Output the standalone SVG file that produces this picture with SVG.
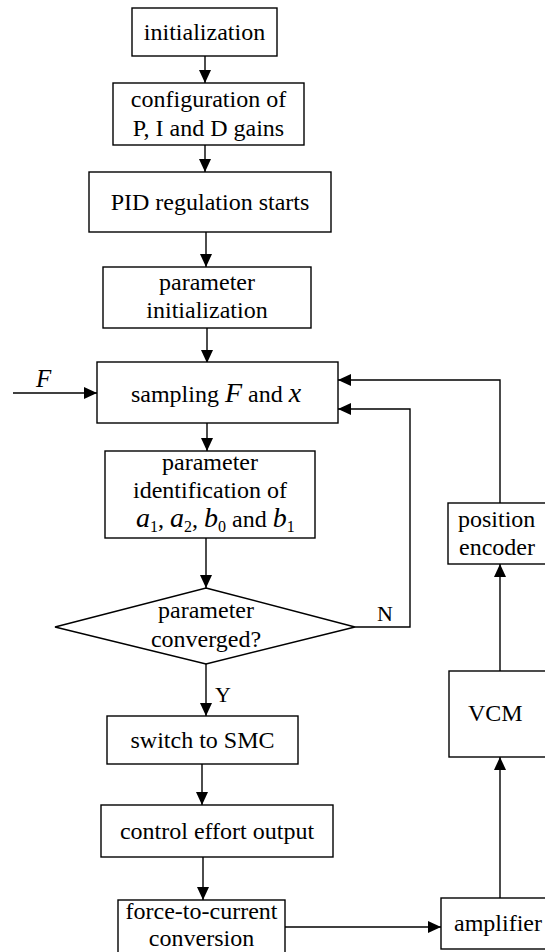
<svg xmlns="http://www.w3.org/2000/svg" width="545" height="952" viewBox="0 0 545 952">
  <style>
    .box { fill: #fff; stroke: #000; stroke-width: 1.4; }
    .wire { fill: none; stroke: #000; stroke-width: 1.4; }
    text { font-family: "Liberation Serif", "Times New Roman", serif; font-size: 24px; fill: #000; }
    .c { text-anchor: middle; }
    .it { font-style: italic; font-size: 28px; }
    .sub { font-size: 16px; }
  </style>
  <defs>
    <marker id="arrow" markerUnits="userSpaceOnUse" markerWidth="14" markerHeight="12" refX="13" refY="6" orient="auto">
      <path d="M0,0 L13,6 L0,12 z" fill="#000"/>
    </marker>
  </defs>

  <g id="connectors">
    <path class="wire" d="M205,56 V83" marker-end="url(#arrow)"/>
    <path class="wire" d="M205,145 V172" marker-end="url(#arrow)"/>
    <path class="wire" d="M206,232 V267" marker-end="url(#arrow)"/>
    <path class="wire" d="M207,328 V363" marker-end="url(#arrow)"/>
    <path class="wire" d="M13,393 H97" marker-end="url(#arrow)"/>
    <path class="wire" d="M207,423 V451" marker-end="url(#arrow)"/>
    <path class="wire" d="M206,538 V588" marker-end="url(#arrow)"/>
    <path class="wire" d="M355,627 H410 V409 H338" marker-end="url(#arrow)"/>
    <path class="wire" d="M500,503 V380 H338" marker-end="url(#arrow)"/>
    <path class="wire" d="M206,664 V716" marker-end="url(#arrow)"/>
    <path class="wire" d="M202,764 V805" marker-end="url(#arrow)"/>
    <path class="wire" d="M203,857 V900" marker-end="url(#arrow)"/>
    <path class="wire" d="M285,927 H441" marker-end="url(#arrow)"/>
    <path class="wire" d="M500,898 V757" marker-end="url(#arrow)"/>
    <path class="wire" d="M500,671 V564" marker-end="url(#arrow)"/>
    <text class="it" x="36" y="387" style="font-size:25px">F</text>
    <text x="377" y="621" style="font-size:22px">N</text>
    <text x="215" y="702" style="font-size:22px">Y</text>
  </g>

  <g id="initialization">
    <rect class="box" x="132" y="8" width="145" height="48"/>
    <text class="c" x="204.5" y="40">initialization</text>
  </g>

  <g id="gain-config">
    <rect class="box" x="113" y="83" width="191" height="62"/>
    <text class="c" x="208.5" y="107">configuration of</text>
    <text class="c" x="208.5" y="136">P, I and D gains</text>
  </g>

  <g id="pid-start">
    <rect class="box" x="89" y="172" width="242" height="60"/>
    <text class="c" x="210" y="210">PID regulation starts</text>
  </g>

  <g id="param-init">
    <rect class="box" x="103" y="267" width="208" height="61"/>
    <text class="c" x="207" y="290">parameter</text>
    <text class="c" x="207" y="318">initialization</text>
  </g>

  <g id="sampling">
    <rect class="box" x="97" y="362" width="241" height="61"/>
    <text class="c" x="216" y="402">sampling <tspan class="it">F</tspan> and <tspan class="it">x</tspan></text>
  </g>

  <g id="param-ident">
    <rect class="box" x="105" y="451" width="210" height="87"/>
    <text class="c" x="210" y="470">parameter</text>
    <text class="c" x="210" y="498">identification of</text>
    <text x="136" y="527"><tspan class="it">a</tspan><tspan class="sub" dy="5">1</tspan><tspan dy="-5">, </tspan><tspan class="it">a</tspan><tspan class="sub" dy="5">2</tspan><tspan dy="-5">, </tspan><tspan class="it">b</tspan><tspan class="sub" dy="5">0</tspan><tspan dy="-5"> and </tspan><tspan class="it">b</tspan><tspan class="sub" dy="5">1</tspan></text>
  </g>

  <g id="converged">
    <polygon class="box" points="206,588 355,627 206,664 55,627"/>
    <text class="c" x="206" y="618">parameter</text>
    <text class="c" x="206" y="647">converged?</text>
  </g>

  <g id="switch-smc">
    <rect class="box" x="107" y="716" width="191" height="48"/>
    <text class="c" x="202.5" y="748">switch to SMC</text>
  </g>

  <g id="control-output">
    <rect class="box" x="101" y="805" width="232" height="52"/>
    <text class="c" x="217" y="839">control effort output</text>
  </g>

  <g id="force-to-current">
    <rect class="box" x="118" y="900" width="167" height="60"/>
    <text class="c" x="201.5" y="919">force-to-current</text>
    <text class="c" x="201.5" y="946">conversion</text>
  </g>

  <g id="amplifier">
    <rect class="box" x="441" y="898" width="112" height="51"/>
    <text x="454" y="931">amplifier</text>
  </g>

  <g id="vcm">
    <rect class="box" x="449" y="671" width="104" height="86"/>
    <text x="468" y="721">VCM</text>
  </g>

  <g id="position-encoder">
    <rect class="box" x="448" y="503" width="105" height="61"/>
    <text x="458" y="527">position</text>
    <text x="459" y="555">encoder</text>
  </g>
</svg>
